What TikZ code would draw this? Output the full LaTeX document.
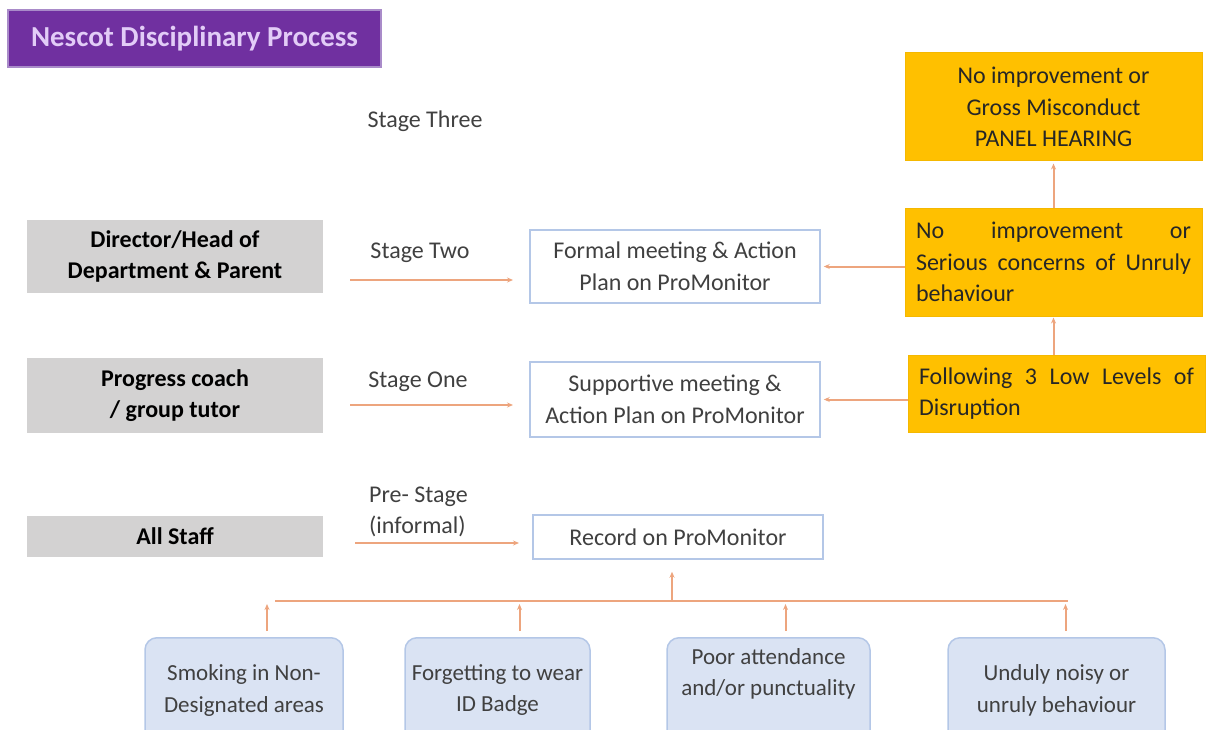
\documentclass[tikz,border=0pt]{standalone}
\usepackage{fontspec}
\setmainfont{Carlito}
\usetikzlibrary{arrows.meta}
\definecolor{nescotpurple}{HTML}{7030A0}
\definecolor{purpleedge}{HTML}{A98BC9}
\definecolor{titletext}{HTML}{E2CCF7}
\definecolor{greyfill}{HTML}{D3D2D2}
\definecolor{goldfill}{HTML}{FFC000}
\definecolor{goldedge}{HTML}{F5B800}
\definecolor{blueedge}{HTML}{B4C7E7}
\definecolor{bluefill}{HTML}{DAE3F3}
\definecolor{flowline}{HTML}{EDA57E}
\definecolor{darktext}{HTML}{404040}

\begin{document}
\begin{tikzpicture}[x=1pt,y=-1pt,
  every node/.style={font=\fontsize{24}{31.5}\selectfont, inner sep=0pt},
  titlebox/.style={rectangle, draw=purpleedge, line width=2pt, fill=nescotpurple, text=titletext, minimum width=373pt, minimum height=57pt, font=\fontsize{29}{32}\selectfont\bfseries},
  greybox/.style={rectangle, fill=greyfill, minimum width=296pt, align=center, font=\fontsize{24}{31.5}\selectfont\bfseries},
  whitebox/.style={rectangle, draw=blueedge, line width=1.5pt, fill=white, text=darktext, minimum width=290pt, align=center},
  goldbox/.style={rectangle, draw=goldedge, line width=1pt, fill=goldfill, text=black!85, minimum width=297pt, minimum height=108pt},
  causebox/.style={rectangle, rounded corners=12pt, draw=blueedge, line width=1.5pt, fill=bluefill, text=darktext, anchor=north, minimum height=105pt, align=center, font=\fontsize{23}{31.5}\selectfont},
  stagelabel/.style={text=darktext, align=left},
  flow/.style={draw=flowline, line width=2pt, -{Stealth[length=6pt,width=5pt]}}]
\useasboundingbox (0,0) rectangle (1212,730);
\clip (0,0) rectangle (1212,730);

\node[titlebox] at (194.5,38.5) (title) {Nescot Disciplinary Process};
\node[stagelabel] at (425,121) (three) {Stage Three};

% who is involved
\node[greybox, minimum height=73pt] at (175,256.5) (head) {Director/Head of\\Department \& Parent};
\node[greybox, minimum height=75pt] at (175,395.5) (coach) {Progress coach\\/ group tutor};
\node[greybox, minimum height=41pt] at (175,536.5) (staff) {All Staff};

% what happens
\node[whitebox, minimum height=73pt] at (675,266.5) (formal) {Formal meeting \& Action\\Plan on ProMonitor};
\node[whitebox, minimum height=75pt] at (675,399.5) (support) {Supportive meeting \&\\Action Plan on ProMonitor};
\node[whitebox, minimum height=44pt] at (678,537) (record) {Record on ProMonitor};

% escalation
\node[goldbox, align=center] at (1053.5,107) (panel) {No improvement or\\Gross Misconduct\\PANEL HEARING};
\node[goldbox, align=left, text width=275pt, inner xsep=11pt] at (1053.5,262) (serious) {No\hfill improvement\hfill or\\Serious\hfill concerns\hfill of\hfill Unruly\\behaviour};
\node[goldbox, align=left, text width=275pt, inner xsep=11pt, minimum height=77pt] at (1056.5,393.5) (low) {Following\hfill 3\hfill Low\hfill Levels\hfill of\\Disruption};

% causes
\node[causebox, minimum width=198pt] at (244,637) (smoking) {Smoking in Non-\\Designated areas};
\node[causebox, minimum width=185pt] at (497.5,637) (badge) {Forgetting to wear\\ID Badge};
\node[causebox, minimum width=203pt] at (768.5,637) (attend) {Poor attendance\\and/or punctuality\\[5pt]};
\node[causebox, minimum width=217pt] at (1056.5,637) (noisy) {Unduly noisy or\\unruly behaviour};

% stage arrows
\coordinate (s2a) at (350,280);
\coordinate (s2b) at (513,280);
\coordinate (s1a) at (350,405);
\coordinate (s1b) at (513,405);
\coordinate (s0a) at (355,543);
\coordinate (s0b) at (519,543);
\draw[flow] (s2a) -- (s2b);
\draw[flow] (s1a) -- (s1b);
\draw[flow] (s0a) -- (s0b);
\node[stagelabel] at (420,253) (two) {Stage Two};
\node[stagelabel] at (418,382) (one) {Stage One};
\node[stagelabel, anchor=west] at (369,512) (pre) {Pre- Stage\\(informal)};

\draw[flow, shorten >=3pt] (serious.west |- formal.east) -- (formal.east);
\draw[flow, shorten >=3pt] (low.west |- support.east) -- (support.east);
\draw[flow, shorten >=1pt] (serious.south |- low.north) -- (serious.south);
\draw[flow, shorten >=2pt] (serious.north) -- (panel.south);

% causes into the record
\coordinate (bus) at (672,601);
\coordinate (smokingtop) at ([xshift=23pt]smoking.north);
\coordinate (badgetop) at ([xshift=22pt]badge.north);
\coordinate (attendtop) at ([xshift=17pt]attend.north);
\coordinate (noisytop) at ([xshift=9pt]noisy.north);
\draw[draw=flowline, line width=2pt] ([xshift=8pt]smokingtop |- bus) -- ([xshift=2pt]noisytop |- bus);
\foreach \b in {smoking,badge,attend,noisy}
  \draw[flow, shorten <=6pt, shorten >=3pt] (\b top) -- (\b top |- bus);
\draw[flow, shorten >=12pt] (bus) -- (bus |- record.south);
\end{tikzpicture}
\end{document}
